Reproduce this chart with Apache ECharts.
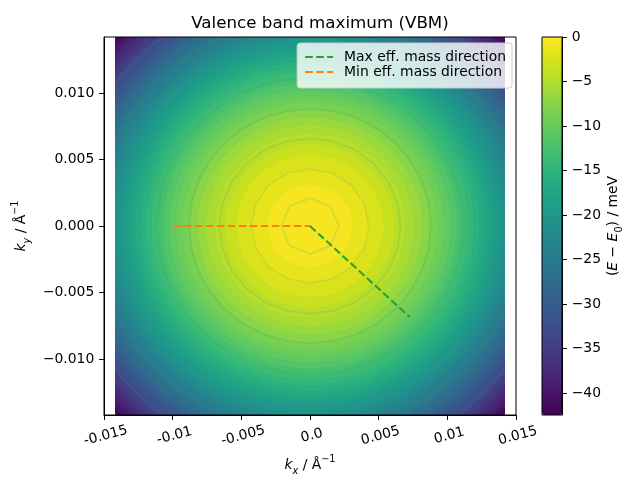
<!DOCTYPE html>
<html><head><meta charset="utf-8">
<script src="https://cdn.jsdelivr.net/npm/echarts@6/dist/echarts.min.js"></script>
<style>html,body{margin:0;padding:0;background:#fff}#c{width:640px;height:480px}</style>
</head><body><div id="c"></div>
<script>
// ---- data ----
const xTickValues = [-0.015, -0.01, -0.005, 0, 0.005, 0.01, 0.015];
const xTickLabels = ['-0.015', '-0.01', '-0.005', '0.0', '0.005', '0.01', '0.015'];
const yTickValues = [-0.01, -0.005, 0, 0.005, 0.01];
const yTickLabels = ['\u22120.010', '\u22120.005', '0.000', '0.005', '0.010'];
const cbTickValues = [0, -5, -10, -15, -20, -25, -30, -35, -40];
const cbTickLabels = ['0', '\u22125', '\u221210', '\u221215', '\u221220', '\u221225', '\u221230', '\u221235', '\u221240'];
const energyMin = -42.47;
const energyMax = 0;
const kLimit = 0.0142;
// iso-energy bands around the VBM: outer radius of each band (1/Å) and its energy (meV)
const bandRadius = [0.0210, 0.01997, 0.01973, 0.01949, 0.01925, 0.01900, 0.01875, 0.01849, 0.01823, 0.01797,
  0.01770, 0.01743, 0.01716, 0.01688, 0.01660, 0.01631, 0.01601, 0.01571, 0.01541, 0.01510,
  0.01478, 0.01445, 0.01412, 0.01378, 0.01343, 0.01307, 0.01271, 0.01233, 0.01194, 0.01153,
  0.01111, 0.01068, 0.01022, 0.00975, 0.00925, 0.00872, 0.00815, 0.00755, 0.00689, 0.00616,
  0.00534, 0.00436, 0.00308];
const bandEnergy = [-42.47, -41.5, -40.5, -39.5, -38.5, -37.5, -36.5, -35.5, -34.5, -33.5,
  -32.5, -31.5, -30.5, -29.5, -28.5, -27.5, -26.5, -25.5, -24.5, -23.5,
  -22.5, -21.5, -20.5, -19.5, -18.5, -17.5, -16.5, -15.5, -14.5, -13.5,
  -12.5, -11.5, -10.5, -9.5, -8.5, -7.5, -6.5, -5.5, -4.5, -3.5,
  -2.5, -1.5, -0.5];
// k-point sampling shells (faint seams in the filled contours)
const shellRadius = [0.0021, 0.0043, 0.0066, 0.0088, 0.0111, 0.0133, 0.0156, 0.0178, 0.0200];
const shellPoints = [8, 16, 24, 32, 40, 48, 56, 64, 72];
// effective-mass directions
const maxDirKx = [0, 0.00727];
const maxDirKy = [0, -0.00685];
const minDirKx = [-0.0100, 0];
const minDirKy = [0, 0];

const viridis = ['#440154','#471365','#482475','#463480','#414487','#3b528b','#355f8d','#2f6c8e','#2a788e','#25848e',
  '#21918c','#1e9c89','#22a884','#2fb47c','#44bf70','#5ec962','#7ad151','#9bd93c','#bddf26','#dfe318','#fde725'];

const F = 'DejaVu Sans';
const FS = 13.9;
function lookup(vals, labels) {
  return function (v) {
    for (let i = 0; i < vals.length; i++) if (Math.abs(v - vals[i]) < 1e-9) return labels[i];
    return '';
  };
}
const rich = {
  i: {fontFamily: F, fontStyle: 'italic', fontSize: FS, lineHeight: 22, color: '#000'},
  n: {fontFamily: F, fontSize: FS, lineHeight: 22, color: '#000'},
  sub: {fontFamily: F, fontStyle: 'italic', fontSize: 9.7, lineHeight: 12, verticalAlign: 'bottom', color: '#000'},
  subn: {fontFamily: F, fontSize: 9.7, lineHeight: 12, verticalAlign: 'bottom', color: '#000'},
  sup: {fontFamily: F, fontSize: 9.7, lineHeight: 12, verticalAlign: 'top', color: '#000'}
};
const black = {color: '#000', width: 1};
const dash = [7.7, 3.3];

const chart = echarts.init(document.getElementById('c'), null, {renderer: 'canvas', width: 640, height: 480});
const option = {
  animation: false,
  backgroundColor: '#fff',
  title: {
    text: 'Valence band maximum (VBM)', left: 'center', top: 10, padding: [5, 25, 5, 5],
    textStyle: {fontFamily: F, fontSize: 16.7, fontWeight: 'normal', color: '#000'}
  },
  legend: {
    orient: 'vertical', right: 128, top: 43, itemWidth: 28, itemHeight: 14, itemGap: 1,
    padding: [7, 6, 9, 7], backgroundColor: 'rgba(255,255,255,0.8)', borderColor: '#cccccc',
    borderWidth: 1, borderRadius: 3, selectedMode: false, z: 20,
    itemStyle: {opacity: 0, color: 'rgba(0,0,0,0)', borderColor: 'rgba(0,0,0,0)', borderWidth: 0},
    textStyle: {fontFamily: F, fontSize: FS, color: '#000', padding: [0, 0, 0, 6]},
    data: ['Max eff. mass direction', 'Min eff. mass direction']
  },
  visualMap: {
    type: 'continuous', min: energyMin, max: energyMax, dimension: 3, seriesIndex: 0,
    inRange: {color: viridis}, left: 542, top: 37, itemWidth: 20, itemHeight: 378,
    padding: 0, calculable: false, hoverLink: false, text: null, z: 4
  },
  grid: [
    {left: 104, top: 37, width: 412, height: 378, show: true, borderColor: '#000', borderWidth: 1, backgroundColor: 'rgba(0,0,0,0)', z: 10, outerBoundsMode: 'none'},
    {left: 115, top: 37, width: 390, height: 378, show: false, outerBoundsMode: 'none'},
    {left: 542, top: 37, width: 20, height: 378, show: true, borderColor: '#000', borderWidth: 1, backgroundColor: 'rgba(0,0,0,0)', z: 10, outerBoundsMode: 'none'}
  ],
  xAxis: [
    {
      gridIndex: 0, type: 'value', min: -0.015, max: 0.015, interval: 0.005,
      axisLine: {show: true, onZero: false, lineStyle: black},
      axisTick: {show: true, inside: false, length: 4.9, lineStyle: black},
      axisLabel: {rotate: 15, align: 'center', verticalAlign: 'top', margin: 14, fontFamily: F, fontSize: FS, color: '#000',
        formatter: lookup(xTickValues, xTickLabels)},
      splitLine: {show: false},
      name: '{i|k}{sub|x}{n| / Å}{sup|\u22121}', nameLocation: 'middle', nameGap: 38,
      nameTextStyle: {rich: rich}
    },
    {gridIndex: 1, type: 'value', min: -kLimit, max: kLimit, show: false},
    {gridIndex: 2, type: 'value', min: 0, max: 1, show: false}
  ],
  yAxis: [
    {
      gridIndex: 0, type: 'value', min: -kLimit, max: kLimit,
      axisLine: {show: true, onZero: false, lineStyle: black},
      axisTick: {show: true, inside: false, length: 4.9, lineStyle: black, customValues: yTickValues},
      axisLabel: {margin: 9.7, fontFamily: F, fontSize: FS, color: '#000', customValues: yTickValues,
        formatter: lookup(yTickValues, yTickLabels)},
      splitLine: {show: false},
      name: '{i|k}{sub|y}{n| / Å}{sup|\u22121}', nameLocation: 'middle', nameRotate: 90, nameGap: 68,
      nameTextStyle: {rich: rich}
    },
    {gridIndex: 1, type: 'value', min: -kLimit, max: kLimit, show: false},
    {
      gridIndex: 2, type: 'value', position: 'right', min: energyMin, max: energyMax,
      axisLine: {show: true, onZero: false, lineStyle: black},
      axisTick: {show: true, inside: false, length: 4.9, lineStyle: black, customValues: cbTickValues},
      axisLabel: {margin: 9.7, fontFamily: F, fontSize: FS, color: '#000', customValues: cbTickValues,
        formatter: lookup(cbTickValues, cbTickLabels)},
      splitLine: {show: false},
      name: '{n|(}{i|E}{n| \u2212 }{i|E}{subn|0}{n|) / meV}', nameLocation: 'middle', nameRotate: 90, nameGap: 40,
      nameTextStyle: {rich: rich}
    }
  ],
  series: [
    {
      type: 'custom', xAxisIndex: 1, yAxisIndex: 1, clip: true, silent: true,
      dimensions: ['kx', 'ky', 'r', 'E'], encode: {x: 0, y: 1},
      data: bandRadius.map((r, i) => [0, 0, r, bandEnergy[i]]),
      renderItem: function (params, api) {
        const c = api.coord([api.value(0), api.value(1)]);
        const s = api.size([api.value(2), api.value(2)]);
        return {type: 'ellipse', shape: {cx: c[0], cy: c[1], rx: s[0], ry: s[1]}, style: {fill: api.visual('color')}};
      }
    },
    {
      type: 'custom', xAxisIndex: 1, yAxisIndex: 1, clip: true, silent: true,
      data: shellRadius.map((r, i) => [r, shellPoints[i]]),
      renderItem: function (params, api) {
        const r = api.value(0), n = api.value(1);
        const pts = [];
        for (let j = 0; j < n; j++) {
          const a = 2 * Math.PI * j / n;
          pts.push(api.coord([r * Math.cos(a), r * Math.sin(a)]));
        }
        return {type: 'polygon', shape: {points: pts}, style: {fill: null, stroke: 'rgba(50,160,110,0.16)', lineWidth: 2}};
      }
    },
    {
      type: 'line', name: 'Max eff. mass direction', xAxisIndex: 0, yAxisIndex: 0, silent: true, z: 5,
      data: maxDirKx.map((x, i) => [x, maxDirKy[i]]), symbol: 'none',
      lineStyle: {color: '#2ca02c', width: 2.08, type: dash}, itemStyle: {color: '#2ca02c'}
    },
    {
      type: 'line', name: 'Min eff. mass direction', xAxisIndex: 0, yAxisIndex: 0, silent: true, z: 5,
      data: minDirKx.map((x, i) => [x, minDirKy[i]]), symbol: 'none',
      lineStyle: {color: '#ff7f0e', width: 2.08, type: dash}, itemStyle: {color: '#ff7f0e'}
    }
  ]
};
chart.setOption(option);
</script>
</body></html>
